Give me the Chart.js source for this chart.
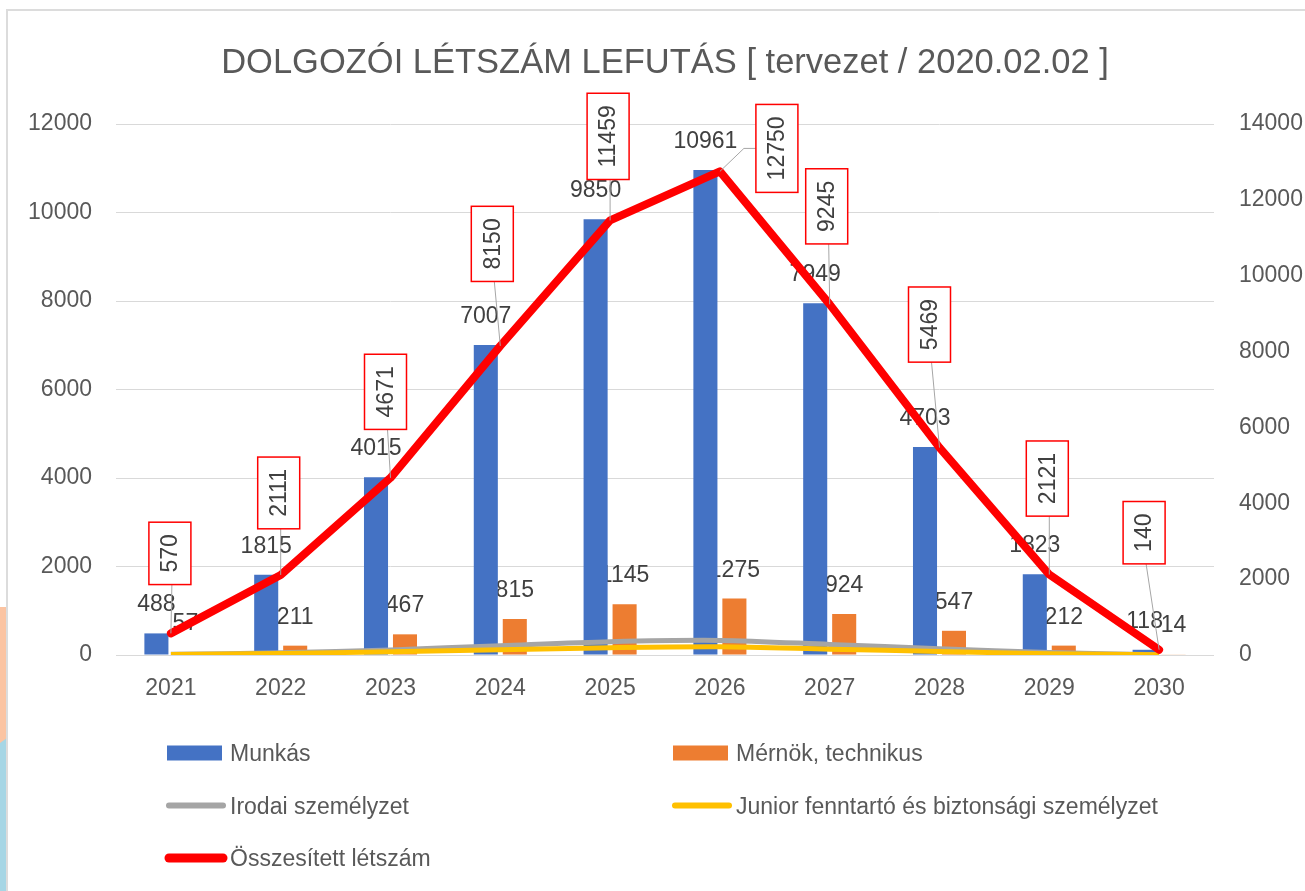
<!DOCTYPE html>
<html>
<head>
<meta charset="utf-8">
<title>Dolgozói létszám lefutás</title>
<script src="https://cdn.jsdelivr.net/npm/chart.js@4.4.1/dist/chart.umd.min.js"></script>
<style>
  html, body { margin: 0; padding: 0; background: #fff; overflow: hidden; }
  #wrap { position: relative; width: 1305px; height: 891px; }
  #strip-top { position: absolute; left: 0; top: 607px; width: 7px; height: 138px; background: #fbc4a2; }
  #strip-bot { position: absolute; left: 0; top: 738px; width: 7px; height: 153px; background: #a6d6e5;
               clip-path: polygon(0 5px, 100% 0, 100% 100%, 0 100%); }
  #frame { position: absolute; left: 6px; top: 9px; width: 1400px; height: 1000px;
           border: 2px solid #dcdcdc; box-sizing: border-box; }
  canvas { position: absolute; left: 0; top: 0; }
</style>
</head>
<body>
<div id="wrap">
  <div id="strip-top"></div>
  <div id="strip-bot"></div>
  <div id="frame"></div>
  <canvas id="chart" width="1305" height="891"></canvas>
</div>
<script>
// ---- adatok ----
const years = ['2021', '2022', '2023', '2024', '2025', '2026', '2027', '2028', '2029', '2030'];
const munkas = [488, 1815, 4015, 7007, 9850, 10961, 7949, 4703, 1823, 118];
const mernok = [57, 211, 467, 815, 1145, 1275, 924, 547, 212, 14];
const irodai = [15, 50, 115, 210, 300, 330, 240, 140, 55, 5];
const junior = [10, 35, 74, 118, 164, 184, 132, 79, 31, 3];
const osszes = [570, 2111, 4671, 8150, 11459, 12750, 9245, 5469, 2121, 140];
const leftAxis = [0, 12000, 2000];   // min, max, step
const rightAxis = [0, 14000, 2000];

const TITLE = 'DOLGOZÓI LÉTSZÁM LEFUTÁS [ tervezet / 2020.02.02 ]';

// ---- stílus ----
const FONT = "'Liberation Sans', Arial, sans-serif";
const AXIS_COLOR = '#595959';
const LABEL_COLOR = '#404040';

// összesített címkék eltolása a ponthoz képest (px)
const totalLabelShift = [
  [-1, -80], [-2, -82], [-5, -86], [-8, -102], [-2, -84],
  [57, -23], [-3, -98], [-10, -123], [-2, -96], [-15, -117]
];

const decorPlugin = {
  id: 'decor',
  // oszlop címkék: az oszlopok után, de a vonalak alatt
  afterDatasetDraw(chart, args) {
    const ds = chart.data.datasets[args.index];
    if (ds.type !== 'bar') return;
    const ctx = chart.ctx;
    ctx.save();
    ctx.font = `23px ${FONT}`;
    ctx.fillStyle = LABEL_COLOR;
    ctx.textAlign = 'center';
    ctx.textBaseline = 'alphabetic';
    args.meta.data.forEach((bar, i) => {
      ctx.fillText(String(ds.data[i]), bar.x, bar.y - 22);
    });
    ctx.restore();
  },
  afterDatasetsDraw(chart) {
    const ctx = chart.ctx;
    const meta = chart.getDatasetMeta(4);
    ctx.save();
    ctx.font = `23px ${FONT}`;
    meta.data.forEach((pt, i) => {
      const txt = String(osszes[i]);
      const w = 42;
      const h = ctx.measureText(txt).width + 24;
      const cx = pt.x + totalLabelShift[i][0];
      const cy = pt.y + totalLabelShift[i][1];
      const left = cx - w / 2, top = cy - h / 2;

      ctx.strokeStyle = '#a6a6a6';
      ctx.lineWidth = 1;
      ctx.beginPath();
      if (Math.abs(cx - pt.x) > w / 2) {
        const ex = cx > pt.x ? left : left + w;
        const dir = cx > pt.x ? -1 : 1;
        ctx.moveTo(pt.x, pt.y);
        ctx.lineTo(ex + dir * 12, cy);
        ctx.lineTo(ex, cy);
      } else {
        ctx.moveTo(cx + 2, top + h);
        ctx.lineTo(pt.x, pt.y);
      }
      ctx.stroke();

      ctx.fillStyle = '#fff';
      ctx.fillRect(left, top, w, h);
      ctx.strokeStyle = '#ff0000';
      ctx.lineWidth = 1.5;
      ctx.strokeRect(left, top, w, h);

      ctx.save();
      ctx.translate(cx, cy);
      ctx.rotate(-Math.PI / 2);
      ctx.fillStyle = LABEL_COLOR;
      ctx.textAlign = 'center';
      ctx.textBaseline = 'middle';
      ctx.fillText(txt, 0, 1);
      ctx.restore();
    });
    ctx.restore();
  },
  afterDraw(chart) {
    const ctx = chart.ctx;
    const area = chart.chartArea;
    ctx.save();

    // cím
    ctx.font = `34.5px ${FONT}`;
    ctx.fillStyle = AXIS_COLOR;
    ctx.textAlign = 'center';
    ctx.textBaseline = 'alphabetic';
    ctx.fillText(TITLE, (area.left + area.right) / 2, 73);

    // jelmagyarázat, két oszlopban
    ctx.font = `23px ${FONT}`;
    ctx.textAlign = 'left';
    chart.data.datasets.forEach((ds, i) => {
      const mx = area.left + 51 + (i % 2) * 506;
      const my = 753 + Math.floor(i / 2) * 52.5;
      if (ds.type === 'bar') {
        ctx.fillStyle = ds.backgroundColor;
        ctx.fillRect(mx, my - 7.5, 55, 15);
      } else {
        ctx.strokeStyle = ds.borderColor;
        ctx.lineWidth = ds.borderWidth + 1;
        ctx.lineCap = 'round';
        ctx.beginPath();
        ctx.moveTo(mx + 2, my);
        ctx.lineTo(mx + 56, my);
        ctx.stroke();
      }
      ctx.fillStyle = AXIS_COLOR;
      ctx.fillText(ds.label, mx + 63, my + 8);
    });
    ctx.restore();
  }
};

const tickFont = { family: FONT, size: 23 };

new Chart(document.getElementById('chart'), {
  type: 'bar',
  data: {
    labels: years,
    datasets: [
      { type: 'bar', label: 'Munkás', data: munkas, backgroundColor: '#4472c4',
        yAxisID: 'y', order: 5, categoryPercentage: 0.528, barPercentage: 0.83 },
      { type: 'bar', label: 'Mérnök, technikus', data: mernok, backgroundColor: '#ed7d31',
        yAxisID: 'y', order: 5, categoryPercentage: 0.528, barPercentage: 0.83 },
      { type: 'line', label: 'Irodai személyzet', data: irodai, borderColor: '#a5a5a5',
        borderWidth: 5, yAxisID: 'y', order: 3, tension: 0.3, pointRadius: 0 },
      { type: 'line', label: 'Junior fenntartó és biztonsági személyzet', data: junior,
        borderColor: '#ffc000', borderWidth: 5, yAxisID: 'y', order: 2, tension: 0.3, pointRadius: 0 },
      { type: 'line', label: 'Összesített létszám', data: osszes, borderColor: '#ff0000',
        borderWidth: 8, yAxisID: 'y1', order: 1, tension: 0, pointRadius: 0,
        borderCapStyle: 'round', borderJoinStyle: 'round' }
    ]
  },
  options: {
    responsive: false,
    animation: false,
    layout: { padding: { top: 124, left: 0, right: 0, bottom: 0 } },
    plugins: {
      legend: { display: false },
      title: { display: false },
      tooltip: { enabled: false }
    },
    scales: {
      x: {
        grid: { display: false, drawTicks: false },
        border: { display: false },
        ticks: { font: tickFont, color: AXIS_COLOR, padding: 20 },
        afterFit(s) { s.height = 236; }
      },
      y: {
        position: 'left',
        min: leftAxis[0], max: leftAxis[1],
        ticks: { stepSize: leftAxis[2], font: tickFont, color: AXIS_COLOR, padding: 24,
                 callback: v => String(v) },
        grid: { color: '#d9d9d9', lineWidth: 1, drawTicks: false },
        border: { display: false },
        afterFit(s) { s.width = 116; }
      },
      y1: {
        position: 'right',
        min: rightAxis[0], max: rightAxis[1],
        ticks: { stepSize: rightAxis[2], font: tickFont, color: AXIS_COLOR, padding: 25,
                 callback: v => String(v) },
        grid: { display: false, drawTicks: false },
        border: { display: false },
        afterFit(s) { s.width = 91; }
      }
    }
  },
  plugins: [decorPlugin]
});
</script>
</body>
</html>
